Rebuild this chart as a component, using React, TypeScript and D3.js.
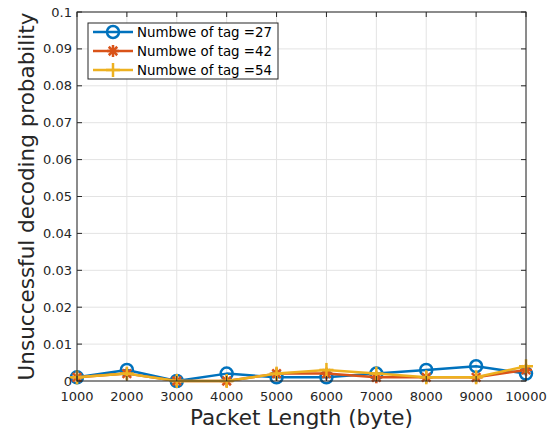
import React from "react";
import * as d3 from "d3";

const packetLengths = [1000, 2000, 3000, 4000, 5000, 6000, 7000, 8000, 9000, 10000];
const tag27 = [0.001, 0.003, 0, 0.002, 0.001, 0.001, 0.002, 0.003, 0.004, 0.002];
const tag42 = [0.001, 0.002, 0, 0, 0.002, 0.002, 0.001, 0.001, 0.001, 0.003];
const tag54 = [0.001, 0.002, 0, 0, 0.002, 0.003, 0.002, 0.001, 0.001, 0.004];
const seriesNames = ["Numbwe of tag =27", "Numbwe of tag =42", "Numbwe of tag =54"];
const yTicks = [0, 0.01, 0.02, 0.03, 0.04, 0.05, 0.06, 0.07, 0.08, 0.09, 0.1];

const W = 556, H = 434;
const M = { left: 77, right: 30, top: 12, bottom: 53 };
const colors = ["#0072BD", "#D95319", "#EDB120"];
const markers = ["circle", "asterisk", "plus"];
const FONT = "DejaVu Sans, sans-serif";
const AX = "#262626";

function Marker({ kind, x, y, color }: { kind: string; x: number; y: number; color: string }) {
  if (kind === "circle") {
    return <circle cx={x} cy={y} r={6} fill="none" stroke={color} strokeWidth={2.5} />;
  }
  if (kind === "asterisk") {
    const r = 6;
    const d = r * 0.707;
    return (
      <g stroke={color} strokeWidth={2.5}>
        <line x1={x - r} y1={y} x2={x + r} y2={y} />
        <line x1={x} y1={y - r} x2={x} y2={y + r} />
        <line x1={x - d} y1={y - d} x2={x + d} y2={y + d} />
        <line x1={x - d} y1={y + d} x2={x + d} y2={y - d} />
      </g>
    );
  }
  const r = 7;
  return (
    <g stroke={color} strokeWidth={2.5}>
      <line x1={x - r} y1={y} x2={x + r} y2={y} />
      <line x1={x} y1={y - r} x2={x} y2={y + r} />
    </g>
  );
}

export default function App() {
  const x = d3.scaleLinear().domain([1000, 10000]).range([M.left, W - M.right]);
  const y = d3.scaleLinear().domain([0, 0.1]).range([H - M.bottom, M.top]);
  const series = [tag27, tag42, tag54];
  const line = d3
    .line<number>()
    .x((_, i) => x(packetLengths[i]))
    .y((v) => y(v));
  const x0 = x.range()[0], x1 = x.range()[1];
  const y0 = y.range()[0], y1 = y.range()[1];
  const tickLen = 5;

  return (
    <svg width={W} height={H} style={{ position: "absolute", left: 0, top: 0, background: "#fff" }}>
      <rect x={0} y={0} width={W} height={H} fill="#fff" />
      {/* grid */}
      <g stroke="#e3e3e3" strokeWidth={1}>
        {packetLengths.map((v) => (
          <line key={"gx" + v} x1={x(v)} x2={x(v)} y1={y0} y2={y1} />
        ))}
        {yTicks.map((v) => (
          <line key={"gy" + v} x1={x0} x2={x1} y1={y(v)} y2={y(v)} />
        ))}
      </g>
      {/* series */}
      {series.map((s, si) => (
        <g key={si}>
          <path d={line(s) || ""} fill="none" stroke={colors[si]} strokeWidth={2.5} strokeLinejoin="round" />
          {s.map((v, i) => (
            <Marker key={i} kind={markers[si]} x={x(packetLengths[i])} y={y(v)} color={colors[si]} />
          ))}
        </g>
      ))}
      {/* axes box */}
      <rect x={x0} y={y1} width={x1 - x0} height={y0 - y1} fill="none" stroke={AX} strokeWidth={1} />
      <g stroke={AX} strokeWidth={1}>
        {packetLengths.map((v) => (
          <g key={"tx" + v}>
            <line x1={x(v)} x2={x(v)} y1={y0} y2={y0 - tickLen} />
            <line x1={x(v)} x2={x(v)} y1={y1} y2={y1 + tickLen} />
          </g>
        ))}
        {yTicks.map((v) => (
          <g key={"ty" + v}>
            <line x1={x0} x2={x0 + tickLen} y1={y(v)} y2={y(v)} />
            <line x1={x1} x2={x1 - tickLen} y1={y(v)} y2={y(v)} />
          </g>
        ))}
      </g>
      {/* tick labels */}
      <g fontFamily={FONT} fontSize={13} fill={AX}>
        {packetLengths.map((v) => (
          <text key={"lx" + v} x={x(v)} y={y0 + 20} textAnchor="middle">
            {String(v)}
          </text>
        ))}
        {yTicks.map((v) => (
          <text key={"ly" + v} x={x0 - 5} y={y(v) + 4.5} textAnchor="end">
            {d3.format("~g")(v)}
          </text>
        ))}
      </g>
      {/* axis titles */}
      <text x={(x0 + x1) / 2} y={H - 9} textAnchor="middle" fontFamily={FONT} fontSize={21.5} fill={AX}>
        Packet Length (byte)
      </text>
      <text
        transform={`translate(34, ${(y0 + y1) / 2}) rotate(-90)`}
        textAnchor="middle"
        fontFamily={FONT}
        fontSize={21.5}
        fill={AX}
      >
        Unsuccessful decoding probability
      </text>
      {/* legend */}
      <g>
        <rect x={88} y={23} width={190} height={56} fill="#fff" stroke={AX} strokeWidth={1} />
        {seriesNames.map((name, i) => {
          const ly = 32 + i * 19;
          return (
            <g key={name}>
              <line x1={93} x2={133} y1={ly} y2={ly} stroke={colors[i]} strokeWidth={2.5} />
              <Marker kind={markers[i]} x={113} y={ly} color={colors[i]} />
              <text x={137} y={ly + 4.5} fontFamily={FONT} fontSize={13.4} fill="#000">
                {name}
              </text>
            </g>
          );
        })}
      </g>
    </svg>
  );
}
